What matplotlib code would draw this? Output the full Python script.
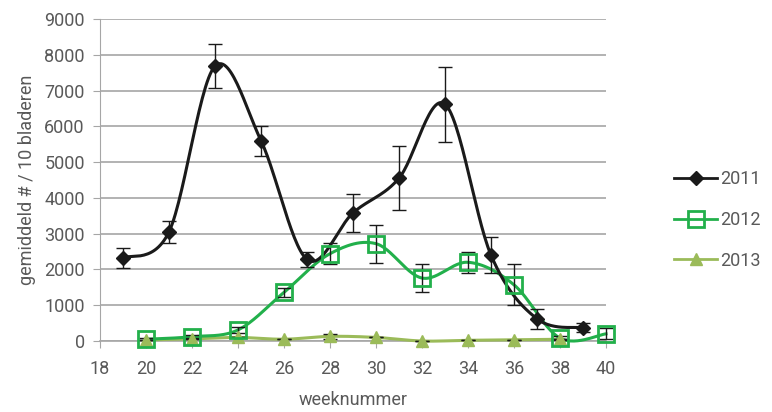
import numpy as np
import matplotlib.pyplot as plt
from matplotlib.lines import Line2D

plt.rcParams['font.family'] = ['Roboto', 'DejaVu Sans']

# gemiddeld aantal per 10 bladeren, per week
weken_2011 = [19, 21, 23, 25, 27, 29, 31, 33, 35, 37, 39]
waarden_2011 = [2320, 3050, 7680, 5600, 2280, 3580, 4550, 6620, 2400, 620, 370]
fout_2011 = [270, 300, 620, 420, 200, 530, 900, 1050, 500, 280, 130]

weken_2012 = [20, 22, 24, 26, 28, 30, 32, 34, 36, 38, 40]
waarden_2012 = [50, 120, 310, 1360, 2440, 2720, 1760, 2200, 1570, 80, 200]
fout_2012 = [30, 40, 80, 130, 300, 530, 380, 300, 570, 60, 150]

weken_2013 = [20, 22, 24, 26, 28, 30, 32, 34, 36, 38]
waarden_2013 = [30, 60, 100, 50, 130, 100, 0, 20, 30, 50]
fout_2013 = [0, 0, 0, 0, 60, 0, 0, 0, 0, 0]


def smooth(x, y, n=30):
    # bezier smoothing like a spreadsheet 'smoothed line'
    x = np.asarray(x, float)
    y = np.asarray(y, float)
    px = np.concatenate([[x[0]], x, [x[-1]]])
    py = np.concatenate([[y[0]], y, [y[-1]]])
    xs, ys = [], []
    t = np.linspace(0, 1, n)
    for i in range(len(x) - 1):
        p0 = np.array([px[i + 1], py[i + 1]])
        p3 = np.array([px[i + 2], py[i + 2]])
        c1 = p0 + (np.array([px[i + 2], py[i + 2]]) - np.array([px[i], py[i]])) / 6
        c2 = p3 - (np.array([px[i + 3], py[i + 3]]) - np.array([px[i + 1], py[i + 1]])) / 6
        b = ((1 - t) ** 3)[:, None] * p0 + (3 * (1 - t) ** 2 * t)[:, None] * c1 \
            + (3 * (1 - t) * t ** 2)[:, None] * c2 + (t ** 3)[:, None] * p3
        xs.extend(b[:, 0])
        ys.extend(b[:, 1])
    return xs, ys


fig = plt.figure(figsize=(7.72, 4.12), dpi=100)
ax = fig.add_axes([0.1295, 0.1723, 0.6555, 0.7817])

grijs = '#595959'
zwart = '#1a1a1a'
groen = '#22b04b'
lichtgroen = '#9bbb59'

for w, v, f, kleur, mk, ms in [
        (weken_2013, waarden_2013, fout_2013, lichtgroen, '^', 9),
        (weken_2012, waarden_2012, fout_2012, groen, 's', 12),
        (weken_2011, waarden_2011, fout_2011, zwart, 'D', 7)]:
    sx, sy = smooth(w, v)
    ax.plot(sx, sy, color=kleur, lw=2.2, zorder=3, clip_on=False)
    ax.errorbar(w, v, yerr=f, fmt='none', ecolor=zwart, elinewidth=1,
                capsize=5, capthick=1, zorder=4, clip_on=False)
    if mk == 's':
        ax.plot(w, v, ls='none', marker=mk, ms=ms, mfc='none', mec=kleur,
                mew=2, zorder=5, clip_on=False)
    else:
        ax.plot(w, v, ls='none', marker=mk, ms=ms, color=kleur, zorder=5,
                clip_on=False)

# legenda
handles = [
    Line2D([], [], color=zwart, lw=2, marker='D', ms=7),
    Line2D([], [], color=groen, lw=2, marker='s', ms=11, mfc='none', mew=2),
    Line2D([], [], color=lichtgroen, lw=2, marker='^', ms=9),
]
fig.legend(handles, ['2011', '2012', '2013'], loc='center left',
           bbox_to_anchor=(0.873, 0.466), frameon=False, fontsize=13,
           handlelength=2.4, handletextpad=0.15, labelspacing=1.25,
           borderpad=0, borderaxespad=0, labelcolor=grijs)

ax.set_xlim(18, 40)
ax.set_ylim(0, 9000)
ax.set_xticks(range(18, 41, 2))
ax.set_yticks(range(0, 9001, 1000))
ax.grid(axis='y', color='#a6a6a6', lw=1.2)
ax.set_axisbelow(True)
for s in ['top', 'right']:
    ax.spines[s].set_visible(False)
ax.spines['left'].set_color('#a6a6a6')
ax.spines['bottom'].set_color('#a6a6a6')
ax.spines['bottom'].set_linewidth(1.2)
ax.tick_params(colors='#a6a6a6', labelcolor=grijs, labelsize=13, length=5,
               direction='out')
ax.tick_params(axis='y', pad=6)
ax.tick_params(axis='x', pad=9)
ax.set_xlabel('weeknummer', color=grijs, fontsize=13, labelpad=9)
ax.set_ylabel('gemiddeld # / 10 bladeren', color=grijs, fontsize=13, labelpad=6)

fig.savefig('out.png', dpi=100)
